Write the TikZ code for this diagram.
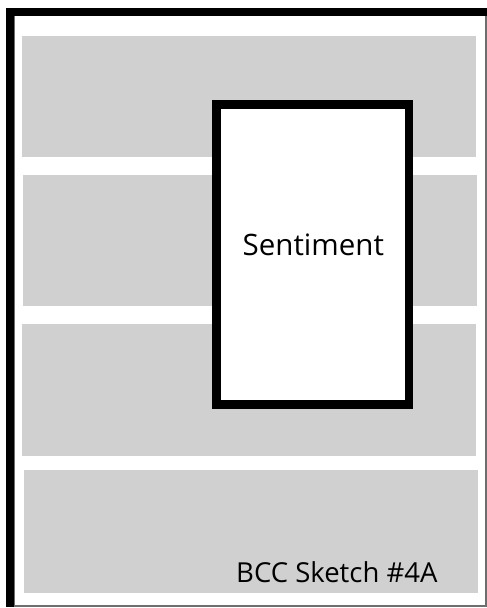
\documentclass[tikz,border=0pt]{standalone}
\usepackage{fontspec}
\setmainfont{Open Sans}
\definecolor{bandgray}{RGB}{208,208,208}
\definecolor{edgegray}{RGB}{110,110,110}
\begin{document}
\begin{tikzpicture}[x=1pt,y=-1pt,
  band/.style={fill=bandgray,draw=none},
  frameblack/.style={fill=black,draw=none},
  sentbox/.style={draw=black,fill=white,line width=8.5pt,minimum width=192.5pt,minimum height=300pt,inner sep=0pt},
  label/.style={inner sep=0pt,font=\fontsize{27.5}{32}\selectfont}]
\useasboundingbox (0,0) rectangle (487,608);
\fill[white] (0,0) rectangle (487,608);
% outer frame
\draw[edgegray,line width=1.2pt] (14,15.5) -- (486,15.5) -- (486,606) -- (14,606);
\fill[frameblack] (6,8) rectangle (487,16);
\fill[frameblack] (6,8) rectangle (14,606.6);
\draw[edgegray,line width=1pt] (14.5,16) -- (14.5,606);
% bands
\fill[band] (22,36) rectangle (476,157);
\fill[band] (23,175) rectangle (477,306);
\fill[band] (22,324) rectangle (476,456);
\fill[band] (24,470) rectangle (478,593);
% sentiment box
\node[sentbox] (sent) at (312.75,254.5) {};
\node[inner sep=0pt,font=\fontsize{29.5}{34}\selectfont,anchor=base] (senttext) at (313.3,255.3) {Sentiment};
\node[label,anchor=base west] (sketch) at (236,582.7) {BCC Sketch \#4A};
\end{tikzpicture}
\end{document}
